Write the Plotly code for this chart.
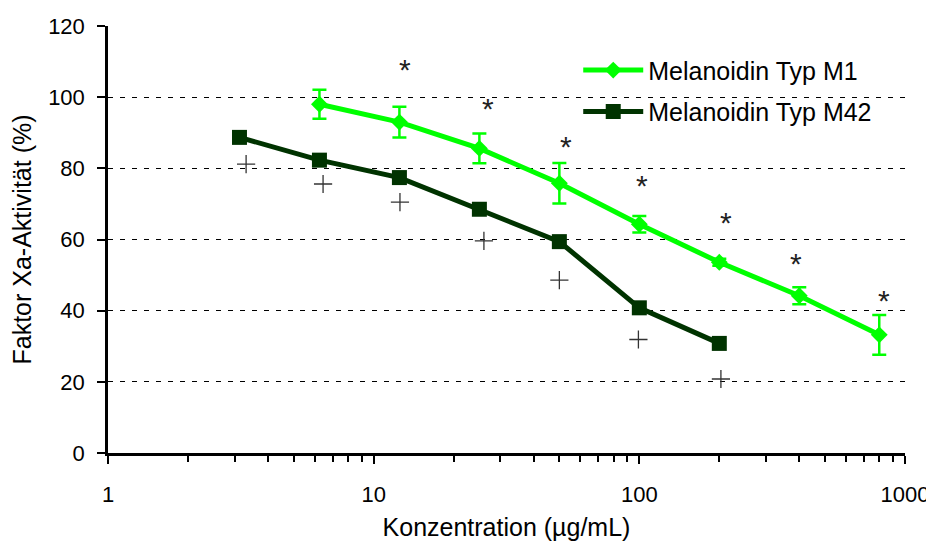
import plotly.graph_objects as go

# ---- data ----
conc_m1 = [6.25, 12.5, 25, 50, 100, 200, 400, 800]
act_m1 = [98.0, 93.0, 85.6, 75.8, 64.3, 53.6, 44.2, 33.2]
err_m1 = [4.1, 4.3, 4.2, 5.7, 2.3, 1.0, 2.4, 5.6]

conc_m42 = [3.125, 6.25, 12.5, 25, 50, 100, 200]
act_m42 = [88.7, 82.3, 77.4, 68.5, 59.4, 40.8, 30.8]

# significance markers (positions of '*' for M1 and '+' for M42)
sig_star_x = [13.1, 26.9, 52.9, 102.3, 211.8, 388, 833]
sig_star_y = [107.0, 96.1, 85.4, 74.4, 64.0, 52.5, 42.1]
sig_plus_x = [3.31, 6.45, 12.56, 26.0, 50.0, 99.2, 202.8]
sig_plus_y = [81.2, 75.6, 70.5, 59.6, 48.6, 31.9, 20.8]

x_tickvals = [1, 10, 100, 1000]
x_ticktext = ["1", "10", "100", "1000"]
x_minor = [m * d for d in (1, 10, 100) for m in range(2, 10)]
y_tickvals = [0, 20, 40, 60, 80, 100, 120]

GREEN = "#00ff00"
DARK = "#003300"
FONT = "Liberation Sans, Arial, sans-serif"

fig = go.Figure()

fig.add_trace(go.Scatter(
    x=conc_m1, y=act_m1, name="Melanoidin Typ M1", mode="lines+markers",
    line=dict(color=GREEN, width=5),
    marker=dict(symbol="diamond", size=13, color=GREEN),
    error_y=dict(type="data", array=err_m1, color=GREEN, thickness=2.5, width=7),
    legendgroup="a",
))
fig.add_trace(go.Scatter(
    x=conc_m42, y=act_m42, name="Melanoidin Typ M42", mode="lines+markers",
    line=dict(color=DARK, width=5),
    marker=dict(symbol="square", size=15, color=DARK),
    legendgroup="b",
))
fig.add_trace(go.Scatter(
    x=sig_star_x, y=sig_star_y, mode="text", text=["*"] * len(sig_star_x),
    textposition="middle center",
    textfont=dict(family=FONT, size=30, color="#222222"),
    showlegend=False, hoverinfo="skip",
))
fig.add_trace(go.Scatter(
    x=sig_plus_x, y=sig_plus_y, mode="markers",
    marker=dict(symbol="cross-thin", size=13, line=dict(color="#333333", width=1.3)),
    showlegend=False, hoverinfo="skip",
))

fig.update_layout(
    width=926, height=536,
    margin=dict(l=100, r=29, t=18, b=91),
    paper_bgcolor="white", plot_bgcolor="white",
    font=dict(family=FONT, color="black"),
    showlegend=True,
    legend=dict(
        x=0.59, y=0.95, xanchor="left", yanchor="top",
        font=dict(family=FONT, size=25, color="black"),
        bgcolor="rgba(0,0,0,0)", itemwidth=60, tracegroupgap=6,
    ),
    xaxis=dict(
        type="log", range=[0, 3], automargin=False,
        tickmode="array", tickvals=x_tickvals, ticktext=x_ticktext,
        ticks="outside", ticklen=8, tickwidth=2, tickcolor="black",
        minor=dict(tickmode="array", tickvals=x_minor, ticks="outside",
                   ticklen=6, tickwidth=2, tickcolor="black", showgrid=False),
        showline=True, linecolor="black", linewidth=2.5,
        showgrid=False, zeroline=False,
        tickfont=dict(family=FONT, size=22, color="black"),
        ticklabelstandoff=12,
        title=dict(text="Konzentration (µg/mL)", font=dict(family=FONT, size=25, color="black"), standoff=13),
    ),
    yaxis=dict(
        range=[0, 120], tickmode="array", tickvals=y_tickvals, automargin=False,
        ticks="outside", ticklen=8, tickwidth=2, tickcolor="black",
        showline=True, linecolor="black", linewidth=2.5,
        showgrid=True, gridcolor="black", gridwidth=1, griddash="5px,7px",
        zeroline=False,
        tickfont=dict(family=FONT, size=22, color="black"),
        ticklabelstandoff=8,
        title=dict(text="Faktor Xa-Aktivität (%)", font=dict(family=FONT, size=25, color="black"), standoff=10),
    ),
)

fig.write_html("out.html")
